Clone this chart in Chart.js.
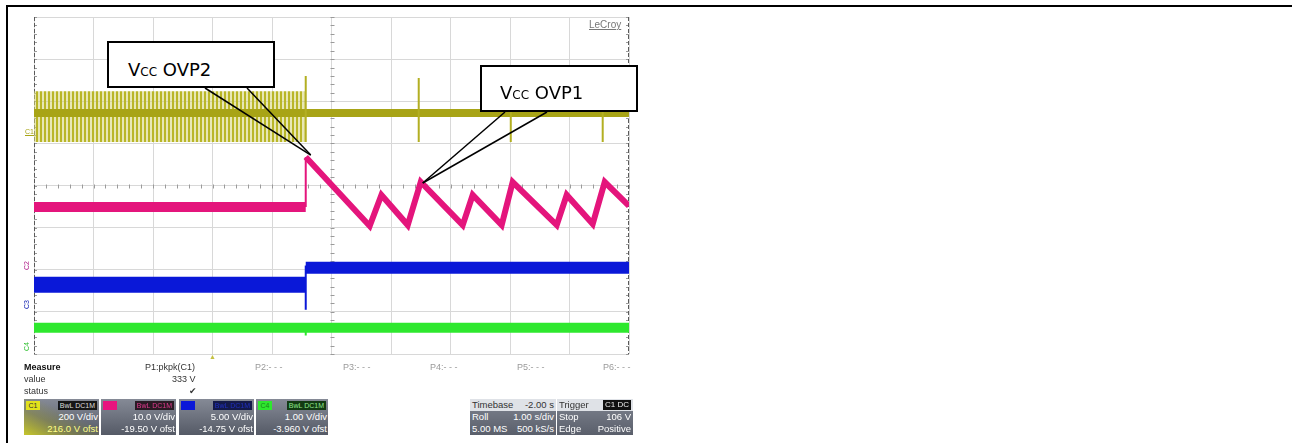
<!DOCTYPE html>
<html>
<head>
<meta charset="utf-8">
<script src="https://cdn.jsdelivr.net/npm/chart.js"></script>
<style>
  html, body { margin: 0; padding: 0; background: #fff; }
  #wrap { position: relative; width: 1292px; height: 443px; overflow: hidden; font-family: "Liberation Sans", Arial, sans-serif; }
  #wrap canvas { position: absolute; left: 0; top: 0; }
  .fr-top  { position: absolute; left: 6px; top: 5px; width: 1290px; height: 2px; background: #000; }
  .fr-left { position: absolute; left: 6px; top: 5px; width: 2px; height: 440px; background: #000; }
  .callout { position: absolute; border: 2px solid #000; background: #fff; box-sizing: border-box; }
  .callout .t { position: absolute; font-family: "DejaVu Sans", sans-serif; font-size: 18px; color: #000; white-space: nowrap; line-height: 20px; }
  .callout .t small { font-size: 12px; }
  .lecroy { position: absolute; left: 589px; top: 19px; font-size: 10px; color: #777; text-decoration: underline; }
  .chl { position: absolute; font-size: 7px; line-height: 7px; }
  .ms { position: absolute; font-size: 9px; line-height: 11px; color: #333; white-space: nowrap; }
  .ms.b { font-weight: bold; color: #111; }
  .ms.g { color: #9a9a9a; }
  .cb { position: absolute; top: 399px; width: 75px; height: 36px; background: linear-gradient(#858a96, #555a66); overflow: hidden; }
  .cb .lab { position: absolute; left: 2px; top: 2px; width: 14px; height: 9px; font-size: 7px; line-height: 9px; text-align: center; }
  .cb .tag { position: absolute; right: 2px; top: 2px; height: 9px; padding: 0 2px; font-size: 7px; line-height: 9px; white-space: nowrap; }
  .cb .r2, .cb .r3 { position: absolute; right: 1px; font-size: 9.5px; line-height: 12px; color: #fff; white-space: nowrap; }
  .cb .r2 { top: 12px; } .cb .r3 { top: 24px; }
  .tb { position: absolute; top: 399px; height: 36px; background: linear-gradient(#7f8490, #5a5f6b); overflow: hidden; }
  .tb .hd { position: absolute; left: 0; right: 0; top: 0; height: 12px; background: #dfe2e7; }
  .tb .c { position: absolute; font-size: 9.5px; line-height: 12px; white-space: nowrap; color: #fff; }
  .tb .hd .c { color: #333; }
</style>
</head>
<body>
<div id="wrap">
  <canvas id="cv" width="1292" height="443"></canvas>
  <div class="fr-top"></div>
  <div class="fr-left"></div>

  <div class="lecroy">LeCroy</div>

  <div class="chl" style="left:25px;top:128px;color:#a8a416;border-bottom:1px solid #a8a416;">C1</div>
  <div class="chl" style="left:22px;top:262px;color:#b0208a;transform:rotate(-90deg);">C2</div>
  <div class="chl" style="left:22px;top:301px;color:#1020b0;transform:rotate(-90deg);">C3</div>
  <div class="chl" style="left:22px;top:343px;color:#30c030;transform:rotate(-90deg);">C4</div>
  <div class="chl" style="left:209px;top:353px;color:#c4c040;font-size:7px;">▲</div>

  <div class="callout" style="left:107px;top:41px;width:168px;height:47px;">
    <span class="t" style="left:19px;top:17px;">V<small>CC</small> OVP2</span>
  </div>
  <div class="callout" style="left:480px;top:65px;width:158px;height:47px;">
    <span class="t" style="left:18px;top:16px;">V<small>CC</small> OVP1</span>
  </div>

  <div class="ms b" style="left:24px;top:362px;">Measure</div>
  <div class="ms" style="left:24px;top:374px;">value</div>
  <div class="ms" style="left:24px;top:386px;">status</div>
  <div class="ms" style="left:145px;top:362px;">P1:pkpk(C1)</div>
  <div class="ms" style="left:172px;top:374px;">333 V</div>
  <div class="ms" style="left:189px;top:386px;font-family:'DejaVu Sans';">✔</div>
  <div class="ms g" style="left:255px;top:362px;">P2:- - -</div>
  <div class="ms g" style="left:343px;top:362px;">P3:- - -</div>
  <div class="ms g" style="left:430px;top:362px;">P4:- - -</div>
  <div class="ms g" style="left:517px;top:362px;">P5:- - -</div>
  <div class="ms g" style="left:603px;top:362px;">P6:- - -</div>

  <div class="cb" style="left:24px;background:linear-gradient(to top right, rgba(205,205,40,0.95) 0%, rgba(150,150,60,0.5) 35%, rgba(0,0,0,0) 60%), linear-gradient(#858a96, #555a66);">
    <div class="lab" style="background:#e2e21c;color:#333;">C1</div>
    <div class="tag" style="background:#161616;color:#ddd;">BwL DC1M</div>
    <div class="r2">200 V/div</div>
    <div class="r3" style="color:#ffff88;">216.0 V ofst</div>
  </div>
  <div class="cb" style="left:101px;">
    <div class="lab" style="background:#e8147e;color:#e8147e;">C2</div>
    <div class="tag" style="background:#2a1a24;color:#e23a8e;">BwL DC1M</div>
    <div class="r2">10.0 V/div</div>
    <div class="r3">-19.50 V ofst</div>
  </div>
  <div class="cb" style="left:179px;">
    <div class="lab" style="background:#0a18d8;color:#0a18d8;">C3</div>
    <div class="tag" style="background:#141a4a;color:#2030c0;">BwL DC1M</div>
    <div class="r2">5.00 V/div</div>
    <div class="r3">-14.75 V ofst</div>
  </div>
  <div class="cb" style="left:256px;width:72px;">
    <div class="lab" style="background:#2ee82e;color:#1a8a1a;">C4</div>
    <div class="tag" style="background:#123a12;color:#8fe88f;">BwL DC1M</div>
    <div class="r2">1.00 V/div</div>
    <div class="r3">-3.960 V ofst</div>
  </div>

  <div class="tb" style="left:470px;width:86px;">
    <div class="hd"><span class="c" style="left:2px;">Timebase</span><span class="c" style="right:2px;">-2.00 s</span></div>
    <span class="c" style="left:2px;top:12px;">Roll</span><span class="c" style="right:2px;top:12px;">1.00 s/div</span>
    <span class="c" style="left:2px;top:24px;">5.00 MS</span><span class="c" style="right:2px;top:24px;">500 kS/s</span>
  </div>
  <div class="tb" style="left:557px;width:76px;">
    <div class="hd"><span class="c" style="left:2px;">Trigger</span><span class="c" style="right:2px;top:1px;height:10px;line-height:10px;background:#111;color:#eee;font-size:8px;padding:0 2px;">C1 DC</span></div>
    <span class="c" style="left:2px;top:12px;">Stop</span><span class="c" style="right:2px;top:12px;">106 V</span>
    <span class="c" style="left:2px;top:24px;">Edge</span><span class="c" style="right:2px;top:24px;">Positive</span>
  </div>
</div>

<script>
// scope screen: 10 horizontal divisions, 8 vertical divisions
const xDivs = 10, yDivs = 8;

// C1 (yellow) - switching burst before OVP2, then flat with single pulses
const c1BurstX      = [0, 4.55];
const c1BurstTop    = [6.24, 6.24];
const c1BurstBottom = [5.03, 5.03];
const c1LevelX      = [0, 10];
const c1LevelY      = [5.72, 5.72];
const c1SpikeX      = [4.567, 6.466, 8.013, 9.558];
const c1SpikeTop    = [6.60, 6.55, 6.55, 6.55];
const c1SpikeBottom = [5.03, 5.03, 5.03, 5.03];

// C2 (magenta) - Vcc
const c2PreX  = [0, 4.567];
const c2PreY  = [3.49, 3.49];
const c2EdgeX = [4.567, 4.567];
const c2EdgeY = [3.49, 4.675];
const c2X = [4.567, 5.642, 5.839, 6.281, 6.50, 7.205, 7.373, 7.86, 8.045, 8.785, 8.953, 9.39, 9.592, 10];
const c2Y = [4.675, 3.04, 3.775, 3.06, 4.083, 3.06, 3.775, 3.06, 4.083, 3.06, 3.775, 3.085, 4.083, 3.514];
const ovp2Index = 0, ovp1Index = 4;

// C3 (blue)
const c3PreX  = [0, 4.567];
const c3PreY  = [1.642, 1.642];
const c3EdgeX = [4.567, 4.567];
const c3EdgeY = [1.05, 2.10];
const c3PostX = [4.567, 10];
const c3PostY = [2.045, 2.045];

// C4 (green)
const c4X = [0, 10];
const c4Y = [0.623, 0.623];
const c4TickX = [4.567, 4.567];
const c4TickY = [0.623, 0.44];

const pts = (xs, ys) => xs.map((x, i) => ({ x, y: ys[i] }));
const spikePts = [];
c1SpikeX.forEach((x, i) => { spikePts.push({ x, y: c1SpikeTop[i] }, { x, y: c1SpikeBottom[i] }, { x, y: null }); });

// vertical stripe pattern for the dense switching burst
const pc = document.createElement('canvas');
pc.width = 4; pc.height = 2;
const pctx = pc.getContext('2d');
pctx.fillStyle = 'rgba(214,212,120,0.55)'; pctx.fillRect(0, 0, 4, 2);
pctx.fillStyle = '#b9b628'; pctx.fillRect(0, 0, 2, 2);
const stripe = document.getElementById('cv').getContext('2d').createPattern(pc, 'repeat');

const YEL = '#a8a416', MAG = '#e4157c', BLU = '#0a18d8', GRN = '#2ee82e';

const line = (data, color, width, extra) => Object.assign({
  data, borderColor: color, borderWidth: width, pointRadius: 0, tension: 0, fill: false, spanGaps: false,
}, extra || {});

const scopeFrame = {
  id: 'scopeFrame',
  beforeDatasetsDraw(chart) {
    const { ctx, chartArea: a, scales: { x, y } } = chart;
    ctx.save();
    ctx.strokeStyle = '#9a9a9a'; ctx.lineWidth = 1;
    const cx = Math.round(x.getPixelForValue(xDivs / 2)) + 0.5, cy = Math.round(y.getPixelForValue(yDivs / 2)) + 0.5;
    for (let i = 0; i <= xDivs * 5; i++) {
      const px = Math.round(x.getPixelForValue(i / 5)) + 0.5;
      ctx.beginPath(); ctx.moveTo(px, cy - 2); ctx.lineTo(px, cy + 2); ctx.stroke();
    }
    for (let i = 0; i <= yDivs * 5; i++) {
      const py = Math.round(y.getPixelForValue(i / 5)) + 0.5;
      ctx.beginPath(); ctx.moveTo(cx - 2, py); ctx.lineTo(cx + 2, py); ctx.stroke();
      ctx.beginPath(); ctx.moveTo(a.left, py); ctx.lineTo(a.left + 3, py); ctx.stroke();
      ctx.beginPath(); ctx.moveTo(a.right - 3, py); ctx.lineTo(a.right, py); ctx.stroke();
    }
    ctx.strokeStyle = '#5a5a5a'; ctx.setLineDash([4, 2]);
    ctx.beginPath(); ctx.moveTo(a.left + 0.5, a.top); ctx.lineTo(a.left + 0.5, a.bottom); ctx.stroke();
    ctx.beginPath(); ctx.moveTo(a.right - 0.5, a.top); ctx.lineTo(a.right - 0.5, a.bottom); ctx.stroke();
    ctx.restore();
  },
  afterDatasetsDraw(chart) {
    const { ctx, scales: { x, y } } = chart;
    const t2x = x.getPixelForValue(c2X[ovp2Index]) + 5, t2y = y.getPixelForValue(c2Y[ovp2Index]) - 2;
    const t1x = x.getPixelForValue(c2X[ovp1Index]) + 2, t1y = y.getPixelForValue(c2Y[ovp1Index]) + 1;
    ctx.save();
    ctx.strokeStyle = '#000'; ctx.lineWidth = 1.5;
    [[205, 88, t2x, t2y], [247, 88, t2x, t2y], [505, 112, t1x, t1y], [547, 112, t1x, t1y]].forEach(([x0, y0, x1, y1]) => {
      ctx.beginPath(); ctx.moveTo(x0, y0); ctx.lineTo(x1, y1); ctx.stroke();
    });
    ctx.restore();
  }
};

new Chart(document.getElementById('cv'), {
  type: 'line',
  data: {
    datasets: [
      line(pts(c1BurstX, c1BurstTop), 'rgba(0,0,0,0)', 0, { fill: '+1', backgroundColor: stripe, order: 5 }),
      line(pts(c1BurstX, c1BurstBottom), 'rgba(0,0,0,0)', 0, { order: 6 }),
      line(pts(c1LevelX, c1LevelY), YEL, 8, { order: 4 }),
      line(spikePts, '#b3af22', 2, { order: 3 }),
      line(pts(c2PreX, c2PreY), MAG, 10, { order: 2 }),
      line(pts(c2EdgeX, c2EdgeY), MAG, 2, { order: 2 }),
      line(pts(c2X, c2Y), MAG, 6, { order: 1, borderJoinStyle: 'miter' }),
      line(pts(c3PreX, c3PreY), BLU, 16, { order: 2 }),
      line(pts(c3EdgeX, c3EdgeY), BLU, 2, { order: 2 }),
      line(pts(c3PostX, c3PostY), BLU, 12, { order: 2 }),
      line(pts(c4X, c4Y), GRN, 10, { order: 2 }),
      line(pts(c4TickX, c4TickY), GRN, 2, { order: 2 }),
    ]
  },
  options: {
    responsive: false,
    animation: false,
    layout: { padding: { left: 34, right: 663, top: 17, bottom: 89 } },
    plugins: { legend: { display: false }, tooltip: { enabled: false } },
    scales: {
      x: { type: 'linear', min: 0, max: xDivs, ticks: { display: false, stepSize: 1 },
           grid: { color: '#d8d8d8', drawTicks: false }, border: { display: false } },
      y: { type: 'linear', min: 0, max: yDivs, ticks: { display: false, stepSize: 1 },
           grid: { color: '#d8d8d8', drawTicks: false }, border: { display: false } }
    }
  },
  plugins: [scopeFrame]
});
</script>
</body>
</html>
